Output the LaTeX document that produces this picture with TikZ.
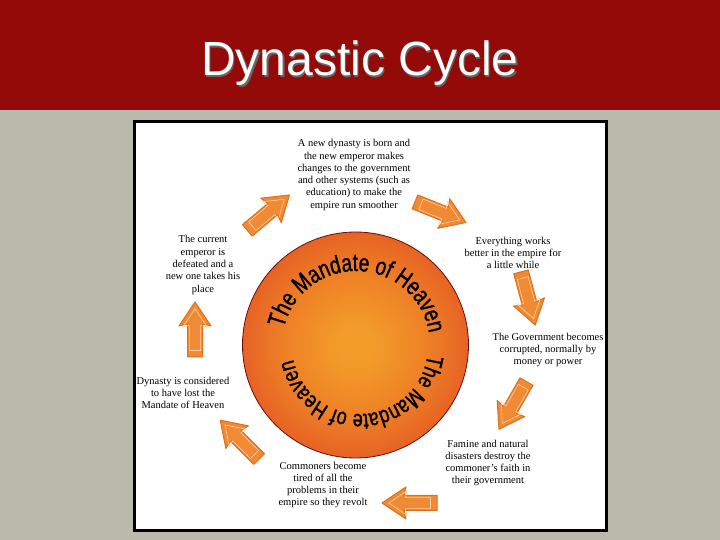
\documentclass[tikz,border=0pt]{standalone}
\usepackage{fontspec}
\setmainfont{Liberation Serif}
\newfontfamily\arialf{Liberation Sans}
\newfontfamily\arcfont{Liberation Sans}[FakeStretch=0.76, FakeBold=1.2]
\usetikzlibrary{decorations.text}
\definecolor{bggray}{HTML}{B9B9AC}
\definecolor{hdred}{HTML}{940A08}
\definecolor{cinner}{HTML}{F39C2A}
\definecolor{cin2}{HTML}{EE8026}
\definecolor{cmid}{HTML}{E25224}
\definecolor{couter}{HTML}{D42C24}
\definecolor{cout2}{HTML}{C82020}
\definecolor{cedge}{HTML}{6A0C0C}
\definecolor{arrowfill}{HTML}{F08A34}
\definecolor{arrowedge}{HTML}{E0701C}
\definecolor{arrowlight}{HTML}{FBD0A8}
\pgfdeclareradialshading{mandate}{\pgfpoint{0bp}{0bp}}{color(0bp)=(cinner); color(4bp)=(cinner); color(16bp)=(cin2); color(30bp)=(cmid); color(44bp)=(couter); color(50bp)=(cout2)}
\tikzset{
  lbl/.style={font=\fontsize{10.5}{12.3}\selectfont, align=center, inner sep=0pt, text=black},
  arctop/.style={decorate, decoration={text along path, text align=center, text={|\arcfont\fontsize{25}{25}\selectfont|The Mandate of Heaven}}},
  arcbot/.style={decorate, decoration={text along path, text align=center, text={|\arcfont\fontsize{23.5}{23.5}\selectfont|The Mandate of Heaven}}},
  barrow/.pic={
    \filldraw[fill=arrowfill, draw=arrowedge, line width=1pt, line join=round]
      (-27,-7.5) -- (6,-7.5) -- (4,-16) -- (28,0) -- (4,16) -- (6,7.5) -- (-27,7.5) -- cycle;
    \draw[arrowlight, line width=0.6pt, line join=round, scale=0.76]
      (-27,-7.5) -- (6,-7.5) -- (4,-16) -- (28,0) -- (4,16) -- (6,7.5) -- (-27,7.5) -- cycle;
  }
}
\begin{document}
\begin{tikzpicture}[x=1pt,y=1pt]
\useasboundingbox (0,0) rectangle (720,540);
\fill[bggray] (0,0) rectangle (720,540);
\fill[hdred] (0,430) rectangle (720,540);
\node[anchor=base, text=black!60, font=\arialf\fontsize{48}{52}\selectfont] (titleshadow) at (361.2,462.8) {Dynastic Cycle};
\node[anchor=base, text=white, font=\arialf\fontsize{48}{52}\selectfont] (title) at (360,464) {Dynastic Cycle};
\draw[line width=3pt, fill=white] (134.5,9.5) rectangle (606.5,418.5);
\node[circle, minimum size=226pt, inner sep=0pt, draw=cedge, line width=0.8pt, shading=mandate] (sun) at (355.5,195) {};
\path[arctop] (356,195) ++(180:74) arc[start angle=180, end angle=-4, radius=74];
\path[arcbot] (360,194) ++(2:68) arc[start angle=2, end angle=-178, radius=68];
% labels
\node[lbl] (top) at (354,365) {A new dynasty is born and\\the new emperor makes\\changes to the government\\and other systems (such as\\education) to make the\\empire run smoother};
\node[lbl] (ur) at (513,287) {Everything works\\better in the empire for\\a little while};
\node[lbl] (rt) at (548,190) {The Government becomes\\corrupted, normally by\\money or power};
\node[lbl] (lr) at (488,77) {Famine and natural\\disasters destroy the\\commoner's faith in\\their government};
\node[lbl] (bt) at (323,55) {Commoners become\\tired of all the\\problems in their\\empire so they revolt};
\node[lbl] (ll) at (183,147) {Dynasty is considered\\to have lost the\\Mandate of Heaven};
\node[lbl] (ul) at (203,275) {The current\\emperor is\\defeated and a\\new one takes his\\place};
% arrows
\pic[rotate=40] at (268,327) {barrow};
\pic[rotate=-22] at (440,328) {barrow};
\pic[rotate=-75] at (528,242) {barrow};
\pic[rotate=-120] at (513,135) {barrow};
\pic[rotate=180] at (410,37) {barrow};
\pic[rotate=135] at (240,100) {barrow};
\pic[rotate=90] at (195,210) {barrow};
\end{tikzpicture}
\end{document}
